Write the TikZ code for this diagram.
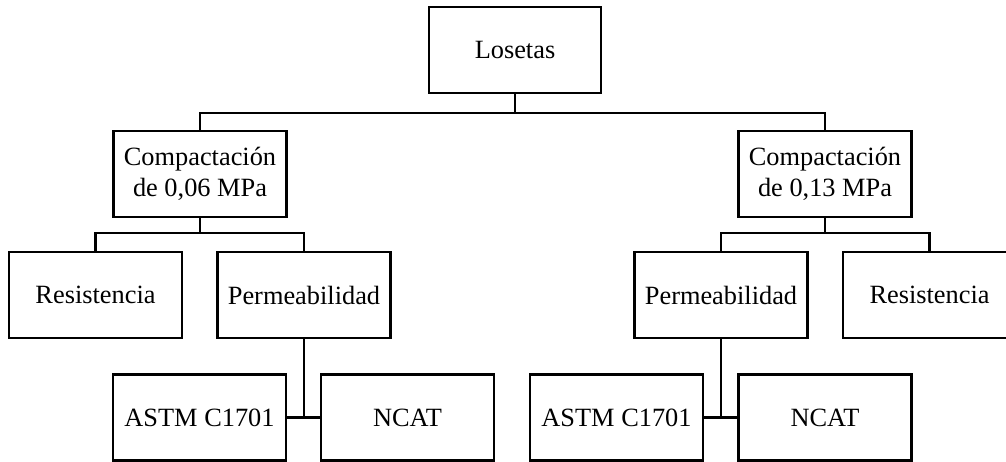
\documentclass[tikz,border=0pt]{standalone}
\usepackage{fontspec}
\setmainfont{Liberation Serif}
\usetikzlibrary{positioning}
\tikzset{
    treebox/.style={draw, line width=1.6pt, minimum width=3.46cm, minimum height=1.72cm,
        align=center, inner sep=1pt, font=\fontsize{15}{17.5}\selectfont},
    treeline/.style={line width=1.6pt}
}

\begin{document}
\begin{tikzpicture}[x=0.02cm, y=-0.02cm]
    \useasboundingbox (0,0) rectangle (1006,462);

    % Root
    \node[treebox, minimum width=3.44cm] (los) at (515,50) {Losetas};

    % Compaction levels
    \node[treebox] (cl) at (200,174) {Compactación\\de 0,06 MPa};
    \node[treebox] (cr) at (825,174) {Compactación\\de 0,13 MPa};

    % Tests, left branch
    \node[treebox] (rl) at (95.5,295) {Resistencia};
    \node[treebox] (pl) at (304,295) {Permeabilidad};
    \node[treebox] (al) at (199.5,417.5) {ASTM C1701};
    \node[treebox] (nl) at (407.5,417.5) {NCAT};

    % Tests, right branch
    \node[treebox] (pr) at (721,295) {Permeabilidad};
    \node[treebox] (rr) at (929.5,295) {Resistencia};
    \node[treebox] (ar) at (616.5,417.5) {ASTM C1701};
    \node[treebox] (nr) at (825,417.5) {NCAT};

    % Bus levels
    \coordinate (b0) at (0,113);
    \coordinate (b1) at (0,233);

    % Connections
    \draw[treeline] (los.south) -- (los |- b0);
    \draw[treeline] (cl.north) -- (cl |- b0) -- (cr |- b0) -- (cr.north);
    \draw[treeline] (cl.south) -- (cl |- b1);
    \draw[treeline] (rl.north) -- (rl |- b1) -- (pl |- b1) -- (pl.north);
    \draw[treeline] (cr.south) -- (cr |- b1);
    \draw[treeline] (pr.north) -- (pr |- b1) -- (rr |- b1) -- (rr.north);
    \draw[treeline] (pl.south) -- (pl |- al.east);
    \draw[treeline] (al.east) -- (nl.west);
    \draw[treeline] (pr.south) -- (pr |- ar.east);
    \draw[treeline] (ar.east) -- (nr.west);
\end{tikzpicture}
\end{document}
